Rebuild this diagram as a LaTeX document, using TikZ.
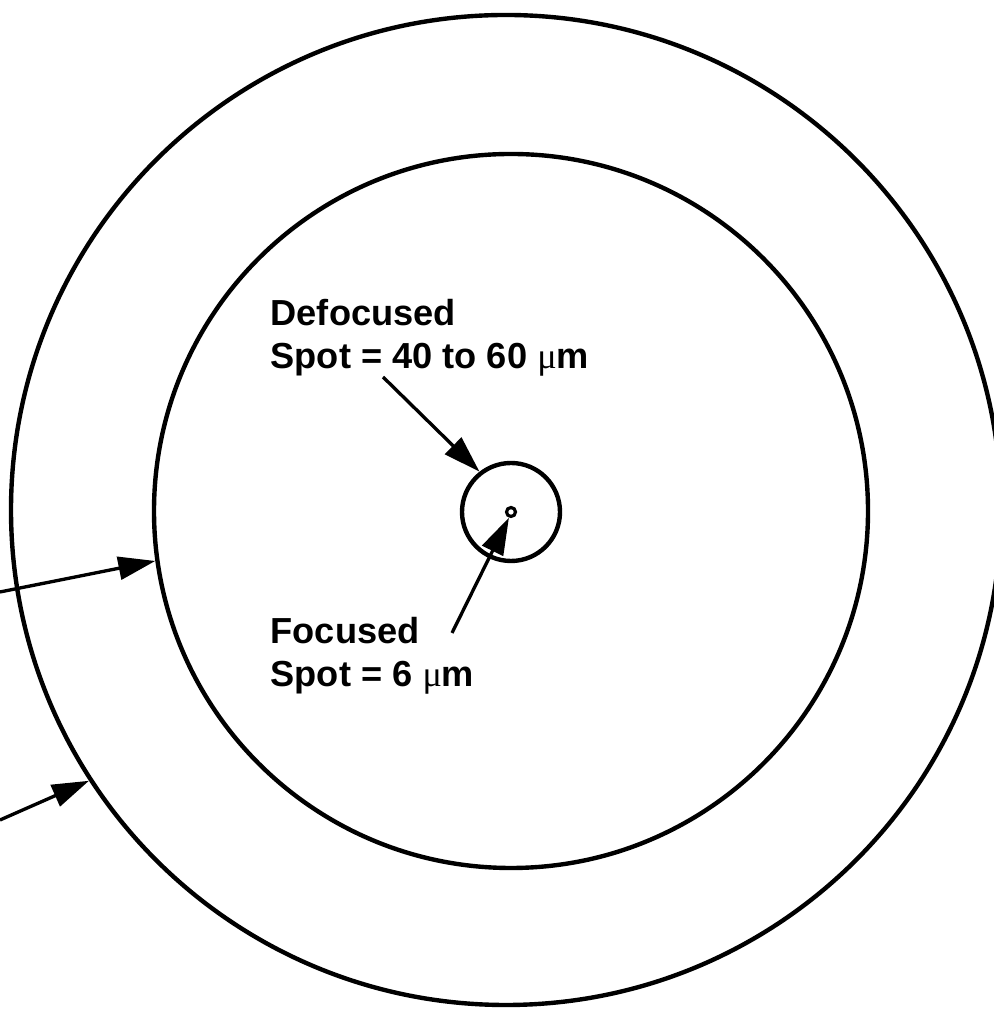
\documentclass[tikz,border=0pt]{standalone}
\usepackage{fontspec}
\setmainfont{Liberation Sans}
\newfontfamily\greekfont{Liberation Serif}
\usetikzlibrary{arrows.meta}

\newcommand{\micron}{{\greekfont\mdseries μ}m}

\begin{document}
\begin{tikzpicture}[
    >={Triangle[length=3.7mm, width=2.3mm]},
    ring/.style={
      draw, circle, inner sep=0pt, line width=1.25pt},
    pointer/.style={
      ->, line width=0.95pt},
    label/.style={
      align=left, inner sep=0pt,
      font=\bfseries\fontsize{10.3}{12.2}\selectfont},
]
\useasboundingbox (0,0) rectangle (9.93,10.11);

% ---- rings and spots ----
\node[ring, minimum size=9.90cm] (outer) at (5.06,5.01) {};
\node[ring, minimum size=7.14cm] (inner) at (5.11,5.00) {};
\node[ring, minimum size=0.98cm] (defspot) at (5.11,4.99) {};
\node[ring, minimum size=0.09cm, line width=0.9pt] (focspot) at (5.11,4.99) {};

% ---- labels ----
\node[label, anchor=north west] (deflabel) at (2.70,7.12)
  {Defocused\\Spot = 40 to 60 \micron};
\node[label, anchor=north west] (foclabel) at (2.70,3.94)
  {Focused\\Spot = 6 \micron};

% ---- free ends of the pointers ----
\coordinate (deftail) at (3.83,6.34);
\coordinate (foctail) at (4.52,3.78);
\coordinate (innertail) at (0,4.19);
\coordinate (outertail) at (0,1.91);

% ---- pointers ----
\draw[pointer] (deftail) -- (defspot.128);
\draw[pointer] (foctail) -- (focspot.250);
\draw[pointer] (innertail) -- (inner.188);
\draw[pointer] (outertail) -- (outer.213);

\end{tikzpicture}
\end{document}
